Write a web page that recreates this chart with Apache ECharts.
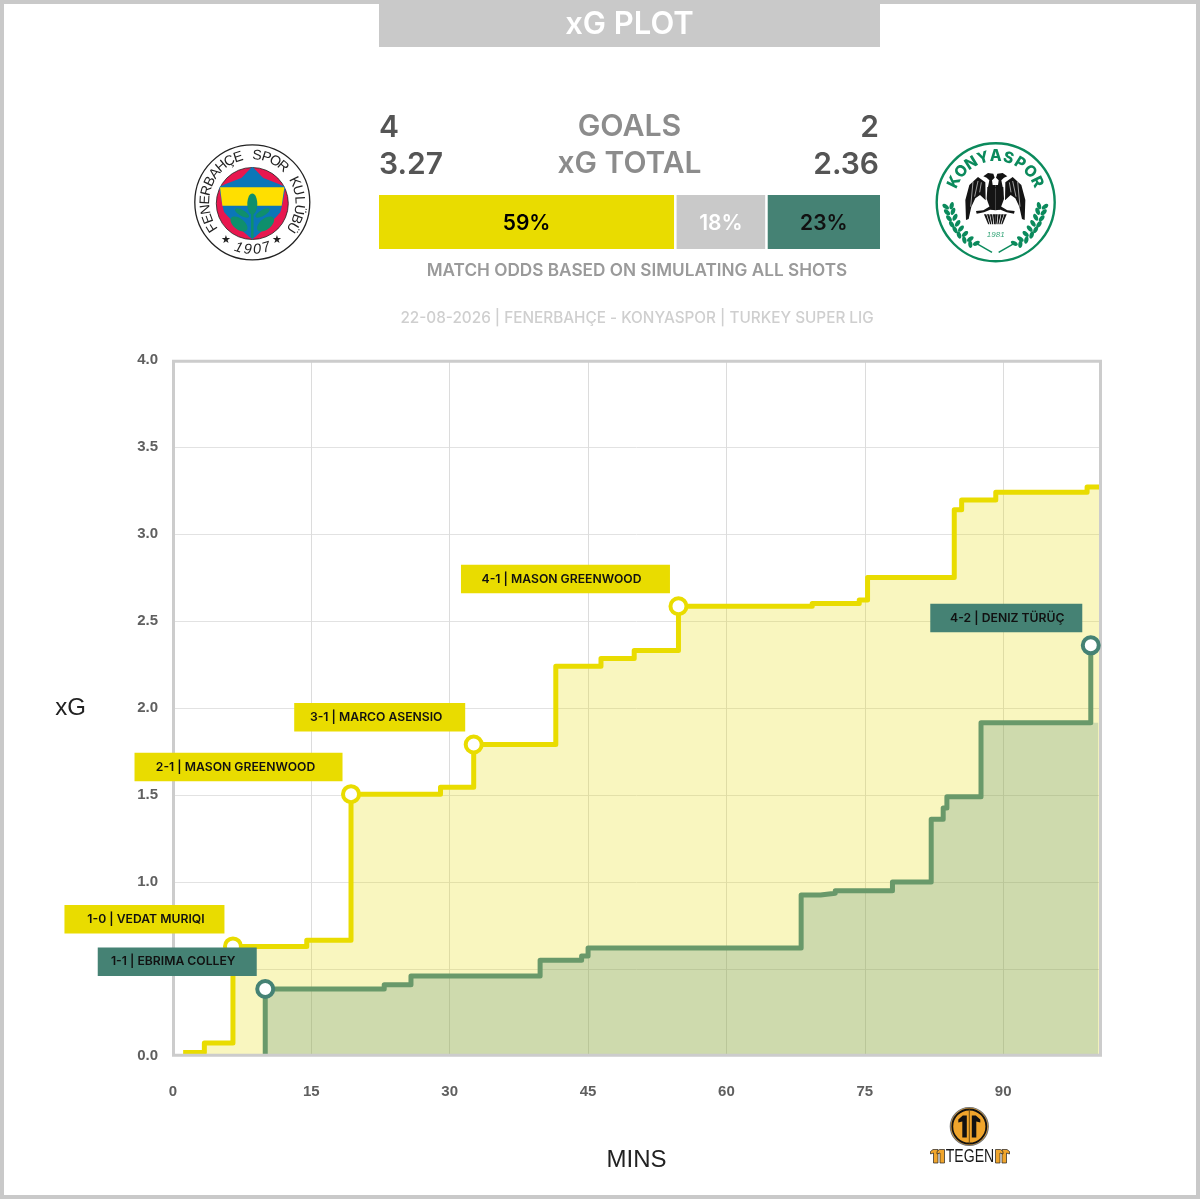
<!DOCTYPE html>
<html><head><meta charset="utf-8">
<style>html,body{margin:0;padding:0;background:#fff}#c{width:1200px;height:1200px}</style>
<script src="https://cdn.jsdelivr.net/npm/echarts@6/dist/echarts.min.js"></script>
</head><body><div id="c"></div>
<script>
// ---- data ----
const yellowMinutes = [1.1,3.4,6.5,14.5,19.3,29,32.6,41.5,46.4,50,54.8,69.3,74.4,75.3,84.7,85.5,89.2,99.1,100.4];
const yellowXG      = [0.02,0.075,0.63,0.665,1.505,1.545,1.79,2.24,2.285,2.33,2.585,2.60,2.62,2.75,3.14,3.195,3.24,3.27,3.27];
const greenMinutes  = [10,22.9,25.8,39.8,44.3,45,68.1,70.2,71.8,78,82.2,83.5,83.9,87.6,99.5];
const greenXG       = [0.385,0.41,0.46,0.55,0.575,0.62,0.925,0.935,0.95,1.0,1.36,1.425,1.49,1.915,2.36];
const greenFillEndMinute = 100.3;
const yellowGoalMinutes = [6.5,19.3,32.6,54.8];
const yellowGoalXG      = [0.63,1.505,1.79,2.585];
const yellowGoalLabels  = ['1-0 | VEDAT MURIQI','2-1 | MASON GREENWOOD','3-1 | MARCO ASENSIO','4-1 | MASON GREENWOOD'];
const greenGoalMinutes  = [10,99.5];
const greenGoalXG       = [0.385,2.36];
const greenGoalLabels   = ['1-1 | EBRIMA COLLEY','4-2 | DENIZ TÜRÜÇ'];
const oddsValues = [59.1,18.1,22.8];
const oddsNames  = ['Home','Draw','Away'];
const xTickStep = 15, yTickStep = 0.5;
const statLabels = ['GOALS','xG TOTAL'];
const homeStats = ['4','3.27'];
const awayStats = ['2','2.36'];

// ---- styles / layout ----
const YEL='#e9dc00', TEAL='#458274', GRN='#69996a', GREY='#c9c9c9';
const UI='Inter, "Open Sans", sans-serif';
const yellowBoxW=[160,208,171,209], greenBoxW=[159,152];
const yellowTextShift=[1.5,-3,-3.5,-4], greenTextShift=[-4,1];

function goalPoints(xs,ys,labels,widths,shifts,color){
  return xs.map((x,i)=>{
    const s=shifts[i];
    return {value:[x,ys[i]],label:{
      show:true,position:'top',distance:3,formatter:labels[i],
      offset:[-(widths[i]/2+8.5),0],width:widths[i]-Math.abs(2*s),height:28.5,lineHeight:28.5,align:'center',
      padding:[0,s<0?-2*s:0,0,s>0?2*s:0],
      backgroundColor:color,color:'#111',fontFamily:UI,fontWeight:600,fontSize:12.2
    }};
  });
}
const zip=(a,b)=>a.map((v,i)=>[v,b[i]]);

// ---- decorative crest helpers ----
const g=[];
function map(ox,oy){return (x,y)=>[ox+x/3,oy+y/3];}
function poly(m,pts,fill,extra){g.push(Object.assign({type:'polygon',shape:{points:pts.map(p=>m(p[0],p[1]))},style:{fill}},extra||{}));}
function smooth(m,pts,fill,s){g.push({type:'polygon',shape:{points:pts.map(p=>m(p[0],p[1])),smooth:s||0.4},style:{fill}});}
function circ(cx,cy,r,fill,stroke,lw){g.push({type:'circle',shape:{cx,cy,r},style:{fill,stroke,lineWidth:lw||0}});}
function ell(cx,cy,rx,ry,rot,fill){g.push({type:'ellipse',x:cx,y:cy,rotation:rot,shape:{cx:0,cy:0,rx,ry},style:{fill}});}
function seg(x1,y1,x2,y2,stroke,lw){g.push({type:'line',shape:{x1,y1,x2,y2},style:{stroke,lineWidth:lw}});}
function txt(x,y,text,font,fill,align,extra){g.push(Object.assign({type:'text',x,y,style:{text,font,fill,textAlign:align||'center',textVerticalAlign:'middle'}},extra||{}));}
function arcText(cx,cy,r,text,a0,a1,font,fill,bottom){
  const n=text.length;
  [...text].forEach((c,i)=>{
    const a=(a0+(a1-a0)*(n>1?i/(n-1):0))*Math.PI/180;
    const x=cx+r*Math.sin(a), y=cy-r*Math.cos(a);
    txt(x,y,c,font,fill,'center',{rotation:bottom?-(a+Math.PI):-a});
  });
}

// page frame and title
g.push({type:'rect',shape:{x:2,y:2,width:1196,height:1195},style:{fill:'#fff',stroke:'#c9c9c9',lineWidth:4}});
g.push({type:'rect',shape:{x:379,y:0,width:501,height:47},style:{fill:GREY}});
txt(629.5,25,'xG PLOT','600 31px '+UI,'#fff');
// stats block
txt(379,128,homeStats[0],'600 30px '+UI,'#555','left');
txt(379,165,homeStats[1],'600 30px '+UI,'#555','left');
txt(629.5,127,statLabels[0],'600 30.3px '+UI,'#8c8c8c');
txt(629.5,164,statLabels[1],'600 30px '+UI,'#8c8c8c');
txt(879,128,awayStats[0],'600 30px '+UI,'#555','right');
txt(879,165,awayStats[1],'600 30px '+UI,'#555','right');
txt(637,270.5,'MATCH ODDS BASED ON SIMULATING ALL SHOTS','600 17.2px '+UI,'#9a9a9a');
txt(637,318,'22-08-2026 | FENERBAHÇE - KONYASPOR | TURKEY SUPER LIG','500 15.3px '+UI,'#cfcfcf');

// Fenerbahçe crest
(function(){
  const cx=252.3,cy=202.3,m=map(185,135);
  circ(cx,cy,57.5,'#fff','#222',1.3);
  arcText(cx,cy,47,'FENERBAHÇE SPOR KULÜBÜ',-122,122,'400 14px "Liberation Sans"','#222');
  arcText(cx,cy,47.5,'1907',197,163,'italic 400 14.5px "Liberation Sans"','#222',true);
  txt(226,240,'★','11px "DejaVu Sans"','#222'); txt(277,240,'★','11px "DejaVu Sans"','#222');
  circ(252.3,203.5,36,'#e8174f','#222',0.8);
  smooth(m,[[202,96],[170,128],[104,156],[118,232],[202,312],[286,232],[300,156],[234,128]],'#0b76b8',0.08);
  poly(m,[[105,157],[298,157],[290,212],[112,212]],'#ffdf00');
  const lf='#0f8f6c';
  seg(252.3,205,252.3,238,lf,2.5);
  ell(252.3,204,5,10.5,0,lf);
  ell(242,213,3,8,1.05,lf); ell(262.6,213,3,8,-1.05,lf);
  ell(239,224,5.5,10,0.9,lf); ell(265.6,224,5.5,10,-0.9,lf);
})();

// Konyaspor crest
(function(){
  const cx=995.7,cy=202.3,m=map(928,135),G='#0b8a5c';
  circ(cx,cy,59,'#fff',G,2.4);
  arcText(cx,cy,46,'KONYASPOR',-64,64,'800 15.5px '+UI,G);
  txt(cx,234.5,'1981','italic 500 8px "Liberation Sans"','#3aa77c');
  // wreath
  [[62,215],[66,232],[72,250],[80,268],[90,284],[102,300],[118,315],[136,328]].forEach((p,i)=>{
    [1,-1].forEach(s=>{
      const px=s>0?p[0]:404-p[0];
      const c=m(px,p[1]);
      const rot=s*(0.35-i*0.12);
      ell(c[0]-3*s,c[1],2.1,3.8,rot+0.6*s,G);
      ell(c[0]+3*s,c[1]-1,2.1,3.8,rot-0.6*s,G);
    });
  });
  [1,-1].forEach(s=>{
    const a=m(s>0?145:259,325),b=m(s>0?192:212,352);
    seg(a[0],a[1],b[0],b[1],G,1.5);
  });
  // eagle, mirrored about the crest's axis
  const E='#141414';
  [0,1].forEach(f=>{
    const X=x=>f?404-x:x, P=a=>a.map(p=>[X(p[0]),p[1]]);
    // wing
    poly(m,P([[114,255],[112,195],[124,150],[150,126],[172,142],[173,196],[156,180],[142,190],[130,215],[122,252]]),E);
    [[135,140,128,215],[150,138,140,185],[160,142,155,172]].forEach(l=>{
      const a=m(X(l[0]),l[1]),b=m(X(l[2]),l[3]);seg(a[0],a[1],b[0],b[1],'#fff',0.6);
    });
    // head and neck
    poly(m,P([[166,124],[180,114],[196,116],[200,128],[192,136],[194,150],[202,150],[202,160],[180,156],[184,136],[176,128]]),E);
    // body
    poly(m,P([[178,156],[202,156],[202,226],[188,224],[176,192]]),E);
    // leg and talons
    poly(m,P([[186,214],[192,222],[168,232],[146,236],[144,228],[166,226]]),E);
    // tail
    [0,1,2,3].forEach(k=>{
      poly(m,P([[202-k*9,238],[202-(k+0.8)*9,238],[202-(k+0.6)*6,268],[202-k*6,268]]),E);
    });
  });
})();

// maker logo
(function(){
  const cx=969.3,cy=1126.5,O='#f0a52c',B='#111';
  circ(cx,cy,19,O,'#777',1.2);
  circ(cx,cy,17,O,B,1.8);
  seg(cx,cy-17,cx,cy+17,'#6b4a10',1);
  g.push({type:'polygon',shape:{points:[[cx-6.5,cy-11],[cx-2.5,cy-11],[cx-2.5,cy+11],[cx-7,cy+11],[cx-7,cy-5],[cx-11,cy-4],[cx-11,cy-7]]},style:{fill:B}});
  g.push({type:'polygon',shape:{points:[[cx+6.5,cy-11],[cx+2.5,cy-11],[cx+2.5,cy+11],[cx+7,cy+11],[cx+7,cy-5],[cx+11,cy-4],[cx+11,cy-7]]},style:{fill:B}});
  g.push({type:'text',x:970,y:1156.5,scaleX:0.74,style:{text:'TEGEN',font:'400 19px "Liberation Sans"',fill:'#1a1a1a',textAlign:'center',textVerticalAlign:'middle'}});
  // x is the outer edge of each stem's flag side; s points from flag side to stem
  [[933,1],[939.5,1],[1007,-1],[1000.5,-1]].forEach(a=>{
    const x=a[0],s=a[1];
    g.push({type:'polygon',shape:{points:[[x,1149.5],[x+s*5,1149.5],[x+s*5,1163],[x+s*0.5,1163],[x+s*0.5,1153],[x-s*2.5,1154],[x-s*2.5,1151.5]]},style:{fill:O,stroke:'#222',lineWidth:0.7}});
  });
})();

// plot frame above the series
const frame={type:'rect',z:3,shape:{x:173.5,y:361.3,width:927,height:694},style:{fill:'none',stroke:'#cccccc',lineWidth:3}};

const chart=echarts.init(document.getElementById('c'),null,{renderer:'canvas'});
const oddsLabelColors=['#000','#fff','#111'];
const oddsColors=[YEL,GREY,TEAL];

chart.setOption({
  animation:false,
  backgroundColor:'#fff',
  graphic:{elements:g.map(e=>Object.assign({z:-1,silent:true},e)).concat([frame])},
  grid:[
    {left:173,top:360,width:927,height:696},
    {left:377.75,top:193.75,width:503.5,height:56.5}
  ],
  xAxis:[
    {type:'value',gridIndex:0,min:0,max:100.5,interval:xTickStep,name:'MINS',nameLocation:'middle',nameGap:92,
     nameTextStyle:{fontFamily:'"Liberation Sans"',fontSize:24,color:'#222'},
     axisLine:{show:false},axisTick:{show:false},
     axisLabel:{margin:28,showMaxLabel:false,color:'#5f5f5f',fontFamily:'"Liberation Sans"',fontWeight:'bold',fontSize:15},
     splitLine:{show:true,showMaxLine:false,showMinLine:false,lineStyle:{color:'#dcdcdc',width:1}}},
    {type:'value',gridIndex:1,min:0,max:100,show:false}
  ],
  yAxis:[
    {type:'value',gridIndex:0,min:0,max:4,interval:yTickStep,name:'xG',nameLocation:'middle',nameRotate:0,nameGap:87,
     nameTextStyle:{fontFamily:'"Liberation Sans"',fontSize:24,color:'#222',padding:[4,0,0,0]},
     axisLine:{show:false},axisTick:{show:false},
     axisLabel:{margin:15,padding:[4,0,0,0],color:'#5f5f5f',fontFamily:'"Liberation Sans"',fontWeight:'bold',fontSize:15,formatter:v=>v.toFixed(1)},
     splitLine:{show:true,showMaxLine:false,showMinLine:false,lineStyle:{color:'#e2e2e2',width:1}}},
    {type:'category',gridIndex:1,data:['odds'],show:false}
  ],
  series:[
    {type:'line',xAxisIndex:0,yAxisIndex:0,step:'end',z:2,showSymbol:false,data:zip(yellowMinutes,yellowXG),
     lineStyle:{color:YEL,width:5,join:'round'},areaStyle:{color:YEL,opacity:0.25}},
    {type:'line',xAxisIndex:0,yAxisIndex:0,step:'end',z:2,showSymbol:false,
     data:zip(greenMinutes.slice(0,-1).concat([greenFillEndMinute]),greenXG.slice(0,-1).concat([greenXG[greenXG.length-2]])),
     lineStyle:{width:0,opacity:0},areaStyle:{color:TEAL,opacity:0.24}},
    {type:'line',xAxisIndex:0,yAxisIndex:0,step:'end',z:2,showSymbol:false,data:[[greenMinutes[0],0]].concat(zip(greenMinutes,greenXG)),
     lineStyle:{color:GRN,width:5,join:'round'}},
    {type:'scatter',xAxisIndex:0,yAxisIndex:0,z:4,symbol:'circle',symbolSize:16,
     itemStyle:{color:'#fff',borderColor:YEL,borderWidth:4,opacity:1},
     data:goalPoints(yellowGoalMinutes,yellowGoalXG,yellowGoalLabels,yellowBoxW,yellowTextShift,YEL)},
    {type:'scatter',xAxisIndex:0,yAxisIndex:0,z:5,symbol:'circle',symbolSize:16,
     itemStyle:{color:'#fff',borderColor:TEAL,borderWidth:4,opacity:1},
     data:goalPoints(greenGoalMinutes,greenGoalXG,greenGoalLabels,greenBoxW,greenTextShift,TEAL)},
  ].concat(oddsValues.map((v,i)=>({
    type:'bar',name:oddsNames[i],xAxisIndex:1,yAxisIndex:1,stack:'odds',barWidth:56.5,
    data:[v],itemStyle:{color:oddsColors[i],borderColor:'#fff',borderWidth:1.25},
    label:{show:true,position:'inside',offset:[0,2],formatter:p=>Math.round(p.value)+'%',color:oddsLabelColors[i],
      fontFamily:UI,fontWeight:600,fontSize:21}
  })))
});
</script></body></html>
